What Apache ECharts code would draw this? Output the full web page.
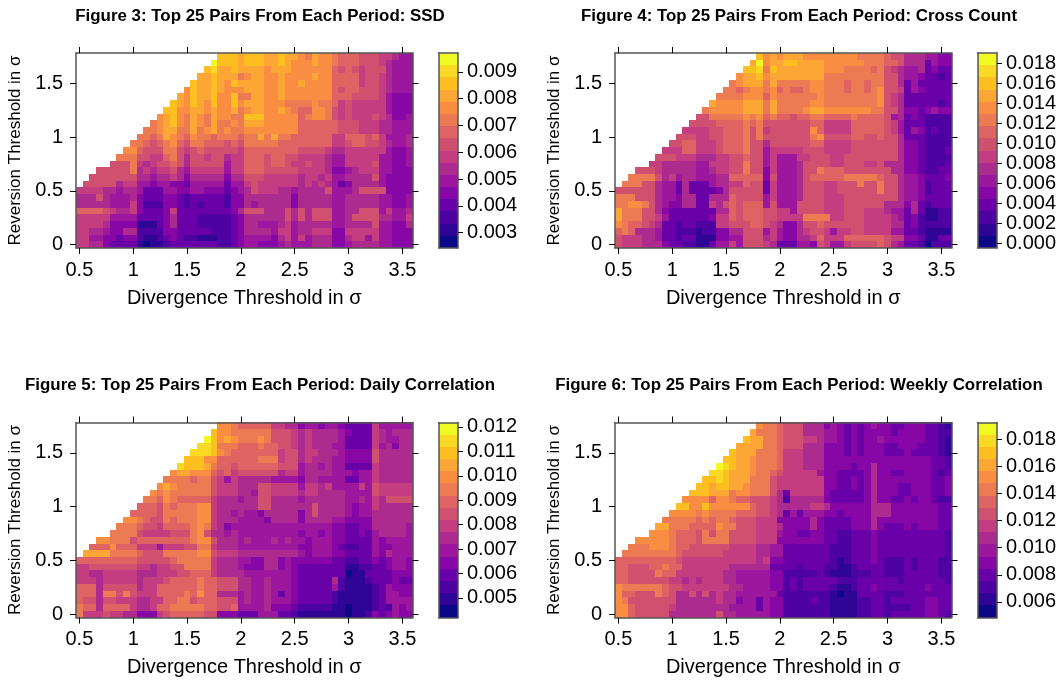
<!DOCTYPE html>
<html><head><meta charset="utf-8">
<style>html,body{margin:0;padding:0;background:#fff}#c{width:1062px;height:681px}</style>
<script src="https://cdn.jsdelivr.net/npm/echarts@6/dist/echarts.min.js"></script>
</head><body><div id="c"></div>
<script>
// Each row lists colour-level indices (hex 0-f), top row (1.75) first; '.' = no value.
const ssdRows = [
"..... ..... ..... ..... .dddc dddcc dccba cbba9 99888 77655",
"..... ..... ..... ..... fdddc dddcc dcbbb cbba9 99888 76555",
"..... ..... ..... ....d eccdc cccbc ccbbb bbb98 98788 86555",
"..... ..... ..... ...cc dccca bccbb cbbbb cbb99 99788 76555",
"..... ..... ..... ..dcc dcbdc cccbb cbbcb bbb99 99788 76555",
"..... ..... ..... .bdcc dcbbb cccbb cbbbb bbb98 99888 76555",
"..... ..... ..... cbdcc dbbda accbb cbbbb bbb99 98888 75444",
"..... ..... ....d cbdcb dbbdb cccbb baaaa baa97 87777 75444",
"..... ..... ...dd bbccb cbbca bccbb cba99 bba87 87777 75444",
"..... ..... ..bcd bacba cbbaa dddbb bbb9a bba87 87778 76445",
"..... ..... .abcd bacba caaba cccbb bbb99 99998 88777 66555",
"..... ..... aabcc aacab cabaa bbbbb bbb99 99998 88777 66555",
"..... ....a a9acb a9baa 9aaa9 aacac aa999 99977 99989 75556",
"..... ...aa 989ab 98aa9 99898 aaaaa 99999 99977 89988 76556",
"..... ..bb9 888aa 87898 88887 99999 99988 88766 77777 75445",
"..... .aaa8 8779a 86887 88677 99989 98877 77655 77777 55445",
"..... 888a7 67889 86888 88577 99989 98778 77655 77778 55445",
"...88 888a6 76778 65777 77577 99988 88877 77644 56777 55444",
"..888 88886 65667 64666 66466 88877 77767 76755 66668 54444",
".8888 86775 54554 43555 55355 78777 77767 67653 46666 54444",
"77776 65665 33355 44554 44345 68777 66566 66855 56888 84444",
"66686 55564 33344 32333 33244 66666 66466 66655 66666 55445",
"66666 55574 22244 32323 33244 65666 66466 66655 66666 55445",
"99998 76674 33347 33333 33346 88866 68686 88855 66888 57556",
"77777 55553 33346 33322 22234 66666 68686 88855 68888 66557",
"77776 44441 11346 33322 22234 66555 67566 66655 66668 55446",
"77665 44662 22244 33333 22234 66665 77566 77744 77777 55444",
"77554 43442 11234 32211 12234 55554 67575 66644 67757 55444",
"77664 33331 01123 33333 32234 55444 56555 66644 56666 55444"
];
const crossRows = [
"..... ..... ..... ..... .dbcb cccbb bbbbb baaaa 98866 65544",
"..... ..... ..... ..... cfbcc ddccc cbbbb bbaaa 99866 63544",
"..... ..... ..... ....d deadc ccccc cbbba aaa9a 87655 63433",
"..... ..... ..... ...bc cdbcc ccccc caaaa aaaaa 88655 43323",
"..... ..... ..... ..abc ccaca aaaab baaa9 aa9aa 88635 33333",
"..... ..... ..... .aa9a bbab9 a99ab baaa9 aa9ab 88735 43333",
"..... ..... ..... aaaab bb9ba aaaaa baaaa aaaab 87633 33333",
"..... ..... ....c bbbbc ccaca aaaab baaaa aaaab 87633 33323",
"..... ..... ...ab bbbbc ccaca aaabc cbbbb bbbaa 88644 34544",
"..... ..... ..88a aaaab ab9a9 9899a a9999 a9999 85634 32222",
"..... ..... .8888 9999a 9a888 88889 97777 99999 87533 32222",
"..... ..... 77778 8999a 8a788 8888b 97777 99999 87535 42322",
"..... ....8 88778 8999a 8a888 8888a b8888 99889 88633 32222",
"..... ...88 99777 8999a 88688 88889 97777 88888 88644 32222",
"..... ..777 99777 8999a 88577 77788 87777 88888 88644 32223",
"..... .8887 77666 77889 88575 55778 88778 88888 88644 32222",
"..... 77666 66557 7788a 88575 55688 88778 88778 66644 32223",
"...88 87666 66556 7788a 88475 55688 a9998 88888 86644 32233",
"..aaa a8675 66555 66999 99485 55689 9999a aaaa9 88655 43334",
".aaa8 86553 63335 66779 88375 55688 87788 8a88a 88655 42333",
"88888 86553 63333 46888 88375 55688 87788 8888a 88655 42333",
"aaa88 86554 66336 66988 88575 55688 87778 88888 88655 43333",
"aabba 86544 66337 68989 99585 55888 87778 88888 66646 32333",
"caaa8 86433 33333 66989 99887 75888 87778 88777 65536 31122",
"caaa8 87533 33334 77989 99887 777aa aa778 88777 76534 21122",
"ba998 76332 33222 77888 99876 44688 98888 88777 76634 22222",
"9a966 65332 22122 44668 88575 44678 87577 88777 75533 21111",
"87776 65332 33111 44558 88675 44667 97779 99999 87744 31133",
"87776 66433 22113 55758 88763 33554 87557 88889 86533 20222"
];
const dailyRows = [
"..... ..... ..... ..... .bba9 99997 76645 54554 33337 55555",
"..... ..... ..... ..... dbbaa aaaa8 88767 66665 43337 65666",
"..... ..... ..... ....f dbcba aaba8 88767 66665 33337 65566",
"..... ..... ..... ...ee daaa9 99a99 88767 66655 33337 56466",
"..... ..... ..... ..eee dba99 99999 78867 76665 44448 66666",
"..... ..... ..... .dddb b9999 99aaa 78867 66655 44448 66666",
"..... ..... ..... edddc a9989 99999 88856 65655 33337 66666",
"..... ..... ....b ccbbb 98978 88888 67756 66655 54557 66666",
"..... ..... ...aa aa9aa 87576 66665 55546 65555 33557 66666",
"..... ..... ..bcb aaaaa 87776 66887 77757 76755 55758 77777",
"..... ..... .baba aaaaa 87776 65887 77767 76666 55558 77777",
"..... ..... aa9ba 99999 76665 66886 66656 66666 55657 68888",
"..... ....9 998a9 aaabb 76666 66886 66666 86666 54557 66666",
"..... ...99 998aa aaabb 76656 55466 66646 86666 54556 66666",
"..... ..bba 988a9 aaabb 76665 55546 66646 66655 44446 66666",
"..... .aaa9 88799 99aba 76455 55555 55555 55544 33446 66665",
"..... aaaa8 77778 88ab8 66565 55555 55545 54544 33435 66665",
"...bb aaa89 99999 99abb 86665 65556 56554 55544 33335 45555",
"..999 b9997 77577 788aa 76665 55555 55544 55543 22335 44555",
".cccc aaaa9 888aa aaabb 87776 66666 66654 55544 33335 46555",
"99999 99998 88889 aaaaa 76665 54466 45444 44433 22334 34554",
"77888 88887 76778 8aaaa 76665 44466 45433 33333 11223 34554",
"77667 77776 66777 88999 76666 55555 55433 33333 01133 33444",
"77767 77776 77789 999a9 98886 65565 55433 33362 11123 33433",
"99968 88886 77999 999a9 98886 65565 55433 33352 11112 35444",
"9996a a8a87 77999 9a9b9 96665 65565 35433 33321 11112 35544",
"98868 87776 67799 aa899 98885 65565 55433 33321 11112 35555",
"a9969 99976 6799a aaaa9 98895 55564 44322 22211 01112 32545",
"a7778 77664 44789 99998 84443 33555 33211 11111 01124 34544"
];
const weeklyRows = [
"..... ..... ..... ..... .baa9 88866 64543 43454 43344 43321",
"..... ..... ..... ..... caaa9 88866 65543 43444 43444 43322",
"..... ..... ..... ....d ccaa9 88877 65543 43445 44444 43321",
"..... ..... ..... ...cc ccaa9 88866 64443 43444 33444 33321",
"..... ..... ..... ..dcc caaa9 77766 64443 43444 33343 33321",
"..... ..... ..... .ddcc baaa9 77766 64444 44444 44444 44332",
"..... ..... ..... fedcc baaa9 77766 64444 34464 44444 44332",
"..... ..... ....e edccc baa98 77777 54433 33464 43344 44323",
"..... ..... ...dd edccc aaa87 77777 74433 43464 44444 44334",
"..... ..... ..ddc ddccb aaa87 77777 74433 43464 44334 44334",
"..... ..... .dddc ccabb aaa86 37777 74333 33464 44334 44334",
"..... ..... bbbb9 bba99 88876 26666 64333 33464 43343 44322",
"..... ....d dbbdb bbbbb 98876 66667 76444 44466 64444 44433",
"..... ...bb bbaba aaa99 98876 35355 54434 44466 64444 44433",
"..... ..aaa aa9a9 aa988 87774 44446 43333 44464 44444 44433",
"..... .ccaa a9999 baa88 87776 44446 43333 44464 33343 44433",
"..... bbba9 998a8 aa888 87775 44334 43322 33343 33333 33332",
"...bb bbba9 998aa aa888 87774 44444 43322 33343 33333 33332",
"..aaa bbba9 98888 88777 76655 33333 33222 33343 33333 33332",
".aaaa aaaa9 88888 87777 76655 33333 33222 33343 33333 33332",
"99999 99998 77777 77777 76744 33333 33212 33343 22232 33322",
"99888 99a99 77777 77666 66633 33233 32211 23333 22232 33322",
"99888 8a997 77777 76655 55544 22222 32111 22233 22233 33322",
"99888 88877 67677 76655 55544 23233 33322 23333 33233 33332",
"baaaa aa988 77777 77665 55544 23233 33211 23343 33333 34333",
"b9988 8a986 68686 76655 55553 22222 22101 13333 22233 33333",
"ba888 88886 66666 76645 53544 22223 22111 12233 23333 34433",
"bb988 88876 66666 66555 53544 22222 22111 12233 22223 34433",
"bb988 88866 66666 86655 55544 22222 22111 12233 23333 34432"
];
const levelColors = ["#0D0887","#2F0596","#4E02A2","#6A00A8","#8606A6","#9C179E","#AD2A8F","#C33D80","#D0516F","#DF6363","#EC7A53","#F98E43","#FCA636","#FDBF1F","#F9D923","#F0F921"];
const xThresholds = Array.from({length:50},(_,i)=>String(0.5+i*0.0625));
const yThresholds = Array.from({length:29},(_,i)=>String(i*0.0625));
const titles = ["Figure 3: Top 25 Pairs From Each Period: SSD","Figure 4: Top 25 Pairs From Each Period: Cross Count","Figure 5: Top 25 Pairs From Each Period: Daily Correlation","Figure 6: Top 25 Pairs From Each Period: Weekly Correlation"];
const scaleLow = [0.00243,-0.0005,0.0042,0.00485];
const scaleHigh = [0.0097,0.019,0.01218,0.01922];
const scaleTicks = [
 [0.003,0.004,0.005,0.006,0.007,0.008,0.009],
 [0,0.002,0.004,0.006,0.008,0.010,0.012,0.014,0.016,0.018],
 [0.005,0.006,0.007,0.008,0.009,0.010,0.011,0.012],
 [0.006,0.008,0.010,0.012,0.014,0.016,0.018]
];
const panels = [ssdRows,crossRows,dailyRows,weeklyRows];
const FONT = '"Liberation Sans", Arial, sans-serif';
const layout = [{l:76,t:53},{l:615,t:53},{l:76,t:422.5},{l:615,t:422.5}];
const PW=336.5, PH=195, frame={show:true,onZero:false,lineStyle:{color:'#555',width:1.5}};
const renderCell=(params,api)=>{
  const p=api.coord([api.value(0),api.value(1)]), s=api.size([1,1]);
  const x0=Math.round(p[0]-s[0]/2), x1=Math.round(p[0]+s[0]/2), y0=Math.round(p[1]-s[1]/2), y1=Math.round(p[1]+s[1]/2);
  return {type:'rect',shape:{x:x0,y:y0,width:x1-x0,height:y1-y0},style:{fill:api.visual('color')}};
};
const option = {animation:false,backgroundColor:'#fff',title:[],grid:[],xAxis:[],yAxis:[],series:[],visualMap:[]};
panels.forEach((rows,p)=>{
  const lo=scaleLow[p],hi=scaleHigh[p],step=(hi-lo)/16,g=layout[p];
  const mid=k=>lo+(k+0.5)*step;
  const cells=[];
  rows.forEach((row,ri)=>{
    const s=row.replace(/ /g,'');
    for(let c=0;c<s.length;c++){ if(s[c]!=='.') cells.push([c,28-ri,mid(parseInt(s[c],16))]); }
  });
  option.title.push({text:titles[p],left:g.l+179,top:g.t-50.5,textAlign:'center',
    textStyle:{fontFamily:FONT,fontWeight:'bold',fontSize:16.9,color:'#000'}});
  option.grid.push({left:g.l,top:g.t,width:PW,height:PH,containLabel:false});
  option.grid.push({left:g.l+362.5,top:g.t,width:19.5,height:PH,containLabel:false});
  const gi=p*2, cb=p*2+1;
  const tick={show:true,alignWithLabel:true,interval:7,length:6,lineStyle:{color:'#000',width:1}};
  const base={type:'category',boundaryGap:true,axisLine:frame,axisTick:tick,splitLine:{show:false},z:5};
  const xb=option.xAxis.length;
  option.xAxis.push({...base,gridIndex:gi,data:xThresholds,position:'bottom',name:'Divergence Threshold in σ',nameLocation:'middle',nameGap:40,
    nameTextStyle:{fontFamily:FONT,fontSize:20,color:'#000'},
    axisLabel:{interval:7,margin:12,fontFamily:FONT,fontSize:20,color:'#000'}});
  option.xAxis.push({...base,gridIndex:gi,data:xThresholds,position:'top',axisLabel:{show:false}});
  option.xAxis.push({type:'category',gridIndex:cb,data:['c'],position:'bottom',axisLine:frame,axisTick:{show:false},axisLabel:{show:false},z:5});
  option.xAxis.push({type:'category',gridIndex:cb,data:['c'],position:'top',axisLine:frame,axisTick:{show:false},axisLabel:{show:false},z:5});
  const yb=option.yAxis.length;
  option.yAxis.push({...base,gridIndex:gi,data:yThresholds,position:'left',name:'Reversion Threshold in σ',nameLocation:'middle',nameGap:52,
    nameTextStyle:{fontFamily:FONT,fontSize:17,color:'#000'},
    axisLabel:{interval:7,margin:13,padding:[3,0,0,0],fontFamily:FONT,fontSize:20,color:'#000'}});
  option.yAxis.push({...base,gridIndex:gi,data:yThresholds,position:'right',axisLabel:{show:false}});
  option.yAxis.push({type:'category',gridIndex:cb,data:levelColors.map((_,k)=>String(k)),position:'left',axisLine:frame,axisTick:{show:false},axisLabel:{show:false},z:5});
  option.yAxis.push({type:'value',gridIndex:cb,position:'right',min:lo,max:hi,splitLine:{show:false},axisLine:frame,z:5,
    axisTick:{show:true,length:5,customValues:scaleTicks[p],lineStyle:{color:'#000',width:1}},
    axisLabel:{show:true,margin:9,padding:[3,0,0,0],customValues:scaleTicks[p],formatter:v=>v.toFixed(3),fontFamily:FONT,fontSize:20,color:'#000'}});
  const sBase={type:'custom',renderItem:renderCell,silent:true,progressive:0,encode:{x:0,y:1},clip:false};
  option.series.push({...sBase,xAxisIndex:xb,yAxisIndex:yb,data:cells});
  option.series.push({...sBase,xAxisIndex:xb+2,yAxisIndex:yb+2,data:levelColors.map((_,k)=>[0,k,mid(k)])});
  option.visualMap.push({type:'piecewise',show:false,seriesIndex:[p*2,p*2+1],dimension:2,
    pieces:levelColors.map((col,k)=>({gte:lo+k*step,lt:lo+(k+1)*step,color:col}))});
});
const chart=echarts.init(document.getElementById('c'),null,{renderer:'canvas'});
chart.setOption(option);
</script></body></html>
